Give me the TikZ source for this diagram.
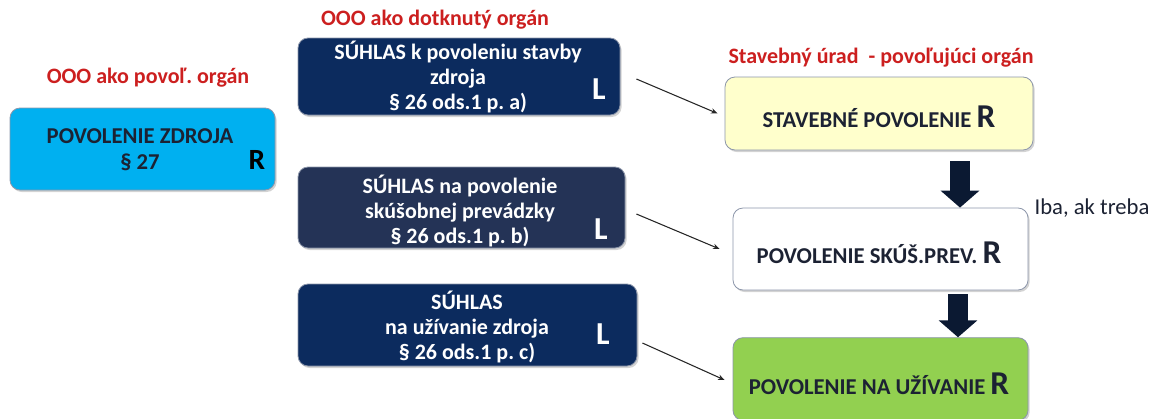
\documentclass[tikz,border=0pt]{standalone}
\usepackage{fontspec}
\setmainfont{Carlito}
\usetikzlibrary{shadows,arrows.meta}
\frenchspacing

\definecolor{navyA}{HTML}{0C2B5E}
\definecolor{navyB}{HTML}{243356}
\definecolor{zdrojcyan}{HTML}{00B0F0}
\definecolor{stavyellow}{HTML}{FFFFCC}
\definecolor{uzivgreen}{HTML}{92D050}
\definecolor{titlered}{HTML}{CC1F1F}
\definecolor{boxtext}{HTML}{1C2233}
\definecolor{blockarrow}{HTML}{0B1932}
\definecolor{boxedge}{HTML}{8C96AA}

\tikzset{
  orgbox/.style={draw=boxedge, line width=0.6pt, rounded corners=7.5pt, align=center, inner sep=0pt,
    drop shadow={shadow xshift=1.2pt, shadow yshift=-1.5pt, opacity=0.35}},
  boxlabel/.style={text=boxtext, align=center, font=\bfseries\fontsize{17}{19.5}\selectfont},
  suhlaslabel/.style={text=white, align=center, font=\bfseries\fontsize{16.5}{19}\selectfont},
  orgtitle/.style={text=titlered, font=\bfseries\fontsize{16.5}{18}\selectfont},
  bigletter/.style={font=\bfseries\fontsize{24}{24}\selectfont},
  thinarrow/.style={-{Stealth[length=5pt,width=4pt]}, line width=0.8pt, draw=black!85},
  bigarrow/.style={-{Triangle[width=28.5pt,length=12.75pt]}, line width=15pt, draw=blockarrow}
}
\newcommand{\bigR}{\fontsize{25}{25}\selectfont R}

\begin{document}
\begin{tikzpicture}[x=0.75pt,y=0.75pt,yscale=-1,xscale=1]
\useasboundingbox (0,0) rectangle (1152,418);

% Titles
\node[orgtitle] (t_povol) at (148,78) {OOO ako povoľ. orgán};
\node[orgtitle] (t_dotk) at (435,20) {OOO ako dotknutý orgán};
\node[orgtitle] (t_stav) at (881,58) {Stavebný úrad\ \ - povoľujúci orgán};

% Left box
\node[orgbox, fill=zdrojcyan, minimum width=198.75pt, minimum height=61.5pt] (zdroj) at (142.5,149) {};
\node[boxlabel] (zdroj_t) at (140,150) {POVOLENIE ZDROJA\\§ 27};
\node[bigletter, text=black, font=\bfseries\fontsize{22}{22}\selectfont] (zdroj_r) at (257,160) {R};

% Middle boxes
\node[orgbox, fill=navyA, minimum width=241.5pt, minimum height=57.75pt] (l1) at (459,76.5) {};
\node[suhlaslabel] (l1_t) at (458,77) {SÚHLAS k povoleniu stavby\\zdroja\\§ 26 ods.1 p. a)};
\node[bigletter, text=white] (l1_l) at (599,89) {L};

\node[orgbox, fill=navyB, minimum width=245.25pt, minimum height=60.75pt] (l2) at (461.5,207.5) {};
\node[suhlaslabel] (l2_t) at (460,211) {SÚHLAS na povolenie\\skúšobnej prevádzky\\§ 26 ods.1 p. b)};
\node[bigletter, text=white] (l2_l) at (601,229) {L};

\node[orgbox, fill=navyA, minimum width=254.25pt, minimum height=61.5pt] (l3) at (467.5,325) {};
\node[suhlaslabel] (l3_t) at (467,327) {SÚHLAS\\na užívanie zdroja\\§ 26 ods.1 p. c)};
\node[bigletter, text=white] (l3_l) at (603,334) {L};

% Right boxes
\node[orgbox, fill=stavyellow, minimum width=231pt, minimum height=54.75pt] (r1) at (879,113.5) {};
\node[boxlabel] (r1_t) at (879,117) {STAVEBNÉ POVOLENIE\ \bigR};

\node[orgbox, fill=white, minimum width=221.25pt, minimum height=61.5pt] (r2) at (880.5,249) {};
\node[boxlabel] (r2_t) at (879,253) {POVOLENIE SKÚŠ.PREV.\ \bigR};
\node[font=\fontsize{17}{19}\selectfont, text=boxtext] (note) at (1092,208) {Iba, ak treba};

\node[orgbox, fill=uzivgreen, minimum width=221.25pt, minimum height=62pt] (r3) at (880.5,379) {};
\node[boxlabel] (r3_t) at (879,384) {POVOLENIE NA UŽÍVANIE \bigR};

% Thin arrows
\draw[thinarrow] ([shift={(16,2.5)}]l1.east) -- ([shift={(-7,0)}]r1.west);
\draw[thinarrow] ([shift={(11,6.5)}]l2.east) -- ([shift={(-13,0)}]r2.west);
\draw[thinarrow] ([shift={(5,18)}]l3.east) -- ([shift={(-8,1)}]r3.west);

% Block arrows
\coordinate (ax1) at (960,0);
\coordinate (ax2) at (958,0);
\draw[bigarrow, shorten <=8.25pt] (r1.south -| ax1) -- (r2.north -| ax1);
\draw[bigarrow, shorten <=3pt] (r2.south -| ax2) -- (r3.north -| ax2);

\end{tikzpicture}
\end{document}
